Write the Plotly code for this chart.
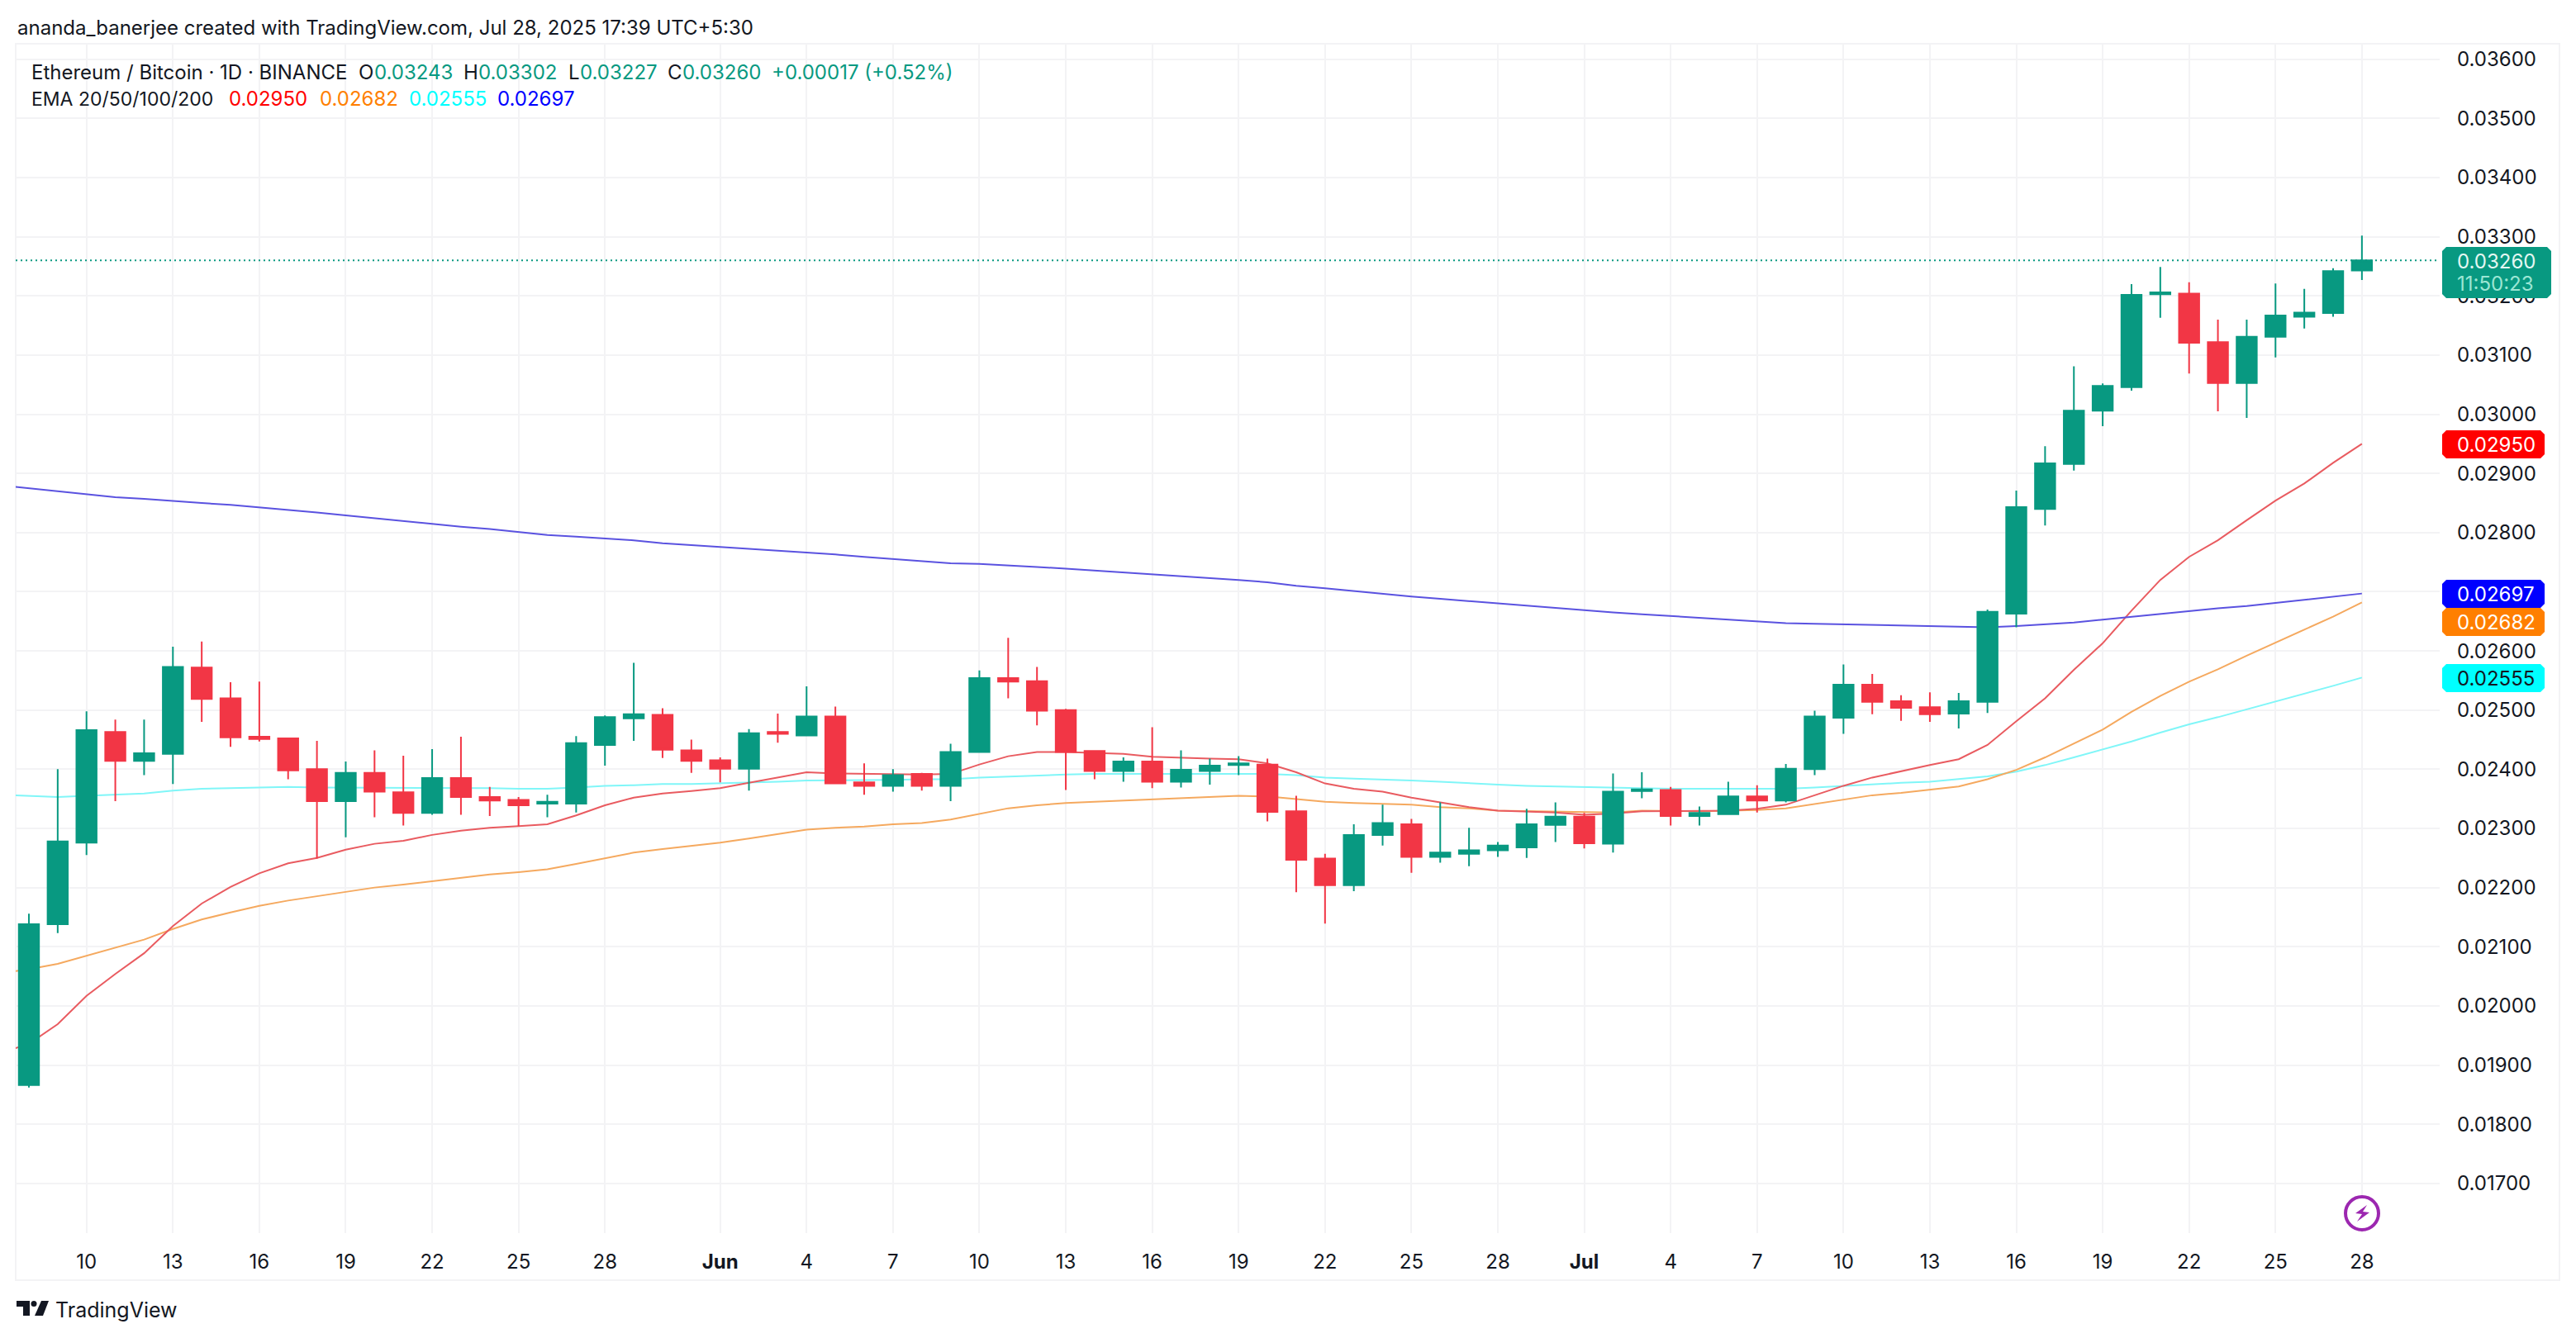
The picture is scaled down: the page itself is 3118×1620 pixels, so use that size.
import pandas as pd
import plotly.graph_objects as go

# daily candles, 8 May - 28 Jul 2025
opens = [.01866,.02138,.02276,.02463,.02414,.02426,.02572,.02520,.02455,.02452,
         .02400,.02346,.02394,.02361,.02326,.02385,.02353,.02348,.02342,.02342,
         .02441,.02486,.02492,.02432,.02415,.02401,.02463,.02457,.02489,.02378,
         .02372,.02392,.02372,.02429,.02554,.02549,.02500,.02431,.02397,.02413,
         .02379,.02397,.02407,.02408,.02329,.02249,.02204,.02289,.02307,.02252,
         .02257,.02263,.02268,.02306,.02320,.02274,.02363,.02365,.02321,.02324,
         .02354,.02347,.02400,.02487,.02543,.02515,.02505,.02494,.02514,.02663,
         .02840,.02916,.03006,.03046,.03203,.03204,.03122,.03053,.03131,.03165,
         .03171,.03243]
highs = [.02156,.02400,.02498,.02484,.02484,.02607,.02616,.02547,.02548,.02452,
         .02448,.02413,.02432,.02423,.02434,.02455,.02370,.02353,.02357,.02456,
         .02491,.02580,.02503,.02450,.02420,.02468,.02494,.02540,.02506,.02410,
         .02400,.02394,.02443,.02567,.02622,.02573,.02502,.02431,.02420,.02471,
         .02432,.02418,.02422,.02418,.02355,.02257,.02307,.02340,.02316,.02344,
         .02301,.02277,.02333,.02344,.02326,.02393,.02395,.02370,.02337,.02379,
         .02373,.02409,.02499,.02577,.02561,.02525,.02530,.02529,.02670,.02871,
         .02946,.03081,.03052,.03220,.03249,.03223,.03160,.03160,.03221,.03212,
         .03247,.03302]
lows = [.01862,.02123,.02255,.02346,.02390,.02375,.02480,.02438,.02447,.02383,
        .02249,.02285,.02319,.02305,.02323,.02323,.02321,.02304,.02319,.02327,
        .02406,.02448,.02419,.02394,.02378,.02364,.02445,.02456,.02375,.02357,
        .02362,.02364,.02346,.02429,.02520,.02474,.02365,.02383,.02379,.02368,
        .02369,.02374,.02390,.02312,.02192,.02139,.02194,.02271,.02225,.02242,
        .02236,.02252,.02250,.02277,.02266,.02259,.02351,.02305,.02305,.02323,
        .02327,.02344,.02390,.02460,.02493,.02482,.02480,.02469,.02495,.02640,
        .02812,.02905,.02980,.03040,.03163,.03069,.03005,.02994,.03096,.03145,
        .03165,.03227]
closes = [.02138,.02278,.02466,.02414,.02427,.02573,.02519,.02454,.02451,.02398,
          .02346,.02394,.02362,.02326,.02385,.02353,.02347,.02339,.02345,.02444,
          .02488,.02493,.02433,.02414,.02401,.02461,.02460,.02489,.02376,.02372,
          .02390,.02372,.02429,.02554,.02548,.02499,.02429,.02397,.02413,.02379,
          .02399,.02406,.02410,.02328,.02247,.02204,.02289,.02309,.02252,.02259,
          .02263,.02271,.02307,.02320,.02275,.02362,.02366,.02321,.02326,.02354,
          .02347,.02401,.02489,.02543,.02514,.02504,.02493,.02515,.02666,.02843,
          .02917,.03006,.03048,.03202,.03206,.03121,.03053,.03131,.03167,.03172,
          .03242,.03260]

# EMAs start one day earlier (7 May), the day is just off the left edge
ema20 = [.01920,.01936,.01969,.02017,.02054,.02089,.02135,.02173,.02201,.02224,.02241,
         .02250,.02264,.02274,.02279,.02289,.02296,.02301,.02304,.02307,.02322,
         .02339,.02352,.02359,.02363,.02368,.02377,.02386,.02395,.02393,.02392,
         .02391,.02391,.02392,.02408,.02422,.02429,.02429,.02427,.02426,.02421,
         .02419,.02418,.02417,.02410,.02395,.02376,.02367,.02362,.02352,.02344,
         .02336,.02330,.02328,.02327,.02323,.02325,.02329,.02329,.02329,.02330,
         .02333,.02340,.02356,.02372,.02386,.02397,.02407,.02417,.02441,.02481,
         .02520,.02568,.02613,.02668,.02720,.02759,.02787,.02821,.02854,.02883,
         .02918,.02950]
ema50 = [.02055,.02062,.02071,.02085,.02098,.02112,.02130,.02146,.02158,.02169,.02178,
         .02185,.02193,.02200,.02205,.02211,.02217,.02222,.02226,.02231,.02240,
         .02250,.02259,.02265,.02270,.02276,.02283,.02291,.02298,.02301,.02303,
         .02307,.02309,.02315,.02325,.02334,.02339,.02343,.02345,.02347,.02349,
         .02351,.02353,.02355,.02354,.02350,.02345,.02343,.02342,.02340,.02336,
         .02334,.02330,.02329,.02328,.02327,.02327,.02330,.02329,.02329,.02330,
         .02331,.02334,.02341,.02348,.02356,.02360,.02365,.02371,.02383,.02399,
         .02420,.02444,.02467,.02497,.02524,.02548,.02569,.02592,.02614,.02636,
         .02658,.02682]
ema100 = [.02357,.02355,.02353,.02355,.02357,.02359,.02364,.02367,.02368,.02369,.02370,
          .02369,.02369,.02369,.02369,.02369,.02369,.02368,.02367,.02367,.02369,
          .02372,.02373,.02375,.02375,.02376,.02377,.02379,.02381,.02381,.02382,
          .02382,.02383,.02383,.02386,.02388,.02390,.02391,.02392,.02392,.02392,
          .02392,.02392,.02392,.02392,.02390,.02386,.02384,.02383,.02381,.02379,
          .02376,.02374,.02372,.02371,.02369,.02369,.02368,.02367,.02367,.02367,
          .02367,.02367,.02369,.02372,.02375,.02377,.02379,.02383,.02388,.02396,
          .02407,.02420,.02433,.02447,.02462,.02476,.02488,.02501,.02515,.02528,
          .02541,.02555]
ema200 = [.02880,.02875,.02869,.02864,.02860,.02857,.02853,.02850,.02847,.02843,.02838,
          .02834,.02829,.02824,.02820,.02815,.02810,.02806,.02801,.02796,.02793,
          .02790,.02787,.02782,.02779,.02776,.02773,.02770,.02766,.02763,.02759,
          .02755,.02752,.02748,.02747,.02745,.02742,.02739,.02736,.02733,.02729,
          .02726,.02723,.02720,.02716,.02710,.02706,.02701,.02697,.02692,.02688,
          .02684,.02680,.02677,.02672,.02669,.02665,.02662,.02659,.02655,.02653,
          .02650,.02647,.02646,.02645,.02643,.02642,.02641,.02640,.02640,.02642,
          .02645,.02648,.02653,.02658,.02663,.02668,.02672,.02676,.02681,.02687,
          .02692,.02697]

tick_dates = ["2025-05-10","2025-05-13","2025-05-16","2025-05-19","2025-05-22","2025-05-25","2025-05-28",
              "2025-06-01","2025-06-04","2025-06-07","2025-06-10","2025-06-13","2025-06-16","2025-06-19",
              "2025-06-22","2025-06-25","2025-06-28","2025-07-01","2025-07-04","2025-07-07","2025-07-10",
              "2025-07-13","2025-07-16","2025-07-19","2025-07-22","2025-07-25","2025-07-28"]
tick_labels = ["10","13","16","19","22","25","28","<b>Jun</b>","4","7","10","13","16","19",
               "22","25","28","<b>Jul</b>","4","7","10","13","16","19","22","25","28"]

FONT = "Inter"
INK = "#131722"
UP = "#089981"
DOWN = "#F23645"
GRID = "#F3F3F5"

# plot area in page pixels
W, H = 3118, 1620
L, R, T, B = 19, 2953, 53, 1493


def fx(px):
    return (px - L) / (R - L)


def fy(py):
    return (B - py) / (B - T)


def rounded(x0, y0, x1, y1, r=5):
    p = [(x0 + r, y0), (x1 - r, y0), (x1, y0 + r), (x1, y1 - r), (x1 - r, y1), (x0 + r, y1), (x0, y1 - r), (x0, y0 + r)]
    return "M" + " L".join(f"{fx(a):.5f},{fy(b):.5f}" for a, b in p) + " Z"


def poly(points):
    return "M" + " L".join(f"{fx(a):.5f},{fy(b):.5f}" for a, b in points) + " Z"


dates = pd.date_range("2025-05-07", periods=83)

fig = go.Figure()
for values, color in [(ema100, "#80F6F8"), (ema50, "#F5A95F"), (ema20, "#E95B60"), (ema200, "#5A52E0")]:
    fig.add_trace(go.Scatter(x=dates, y=values, mode="lines", line=dict(color=color, width=2), showlegend=False))

fig.add_trace(go.Candlestick(
    x=dates[1:], open=opens, high=highs, low=lows, close=closes,
    increasing=dict(line=dict(color=UP, width=2), fillcolor=UP),
    decreasing=dict(line=dict(color=DOWN, width=2), fillcolor=DOWN),
    showlegend=False, zorder=1))

fig.update_layout(
    width=W, height=H, autosize=False,
    margin=dict(l=L, r=W - R, t=T, b=H - B, pad=0),
    paper_bgcolor="white", plot_bgcolor="white",
    font=dict(family=FONT, size=24, color=INK),
    boxgap=0.0, hovermode=False, dragmode=False)
fig.update_xaxes(
    range=["2025-05-07 13:00", "2025-07-30 16:48"], tickmode="array", tickvals=tick_dates, ticktext=tick_labels,
    tickangle=0, showgrid=True, gridcolor=GRID, gridwidth=2, zeroline=False, showline=False,
    ticks="", ticklabelstandoff=18, rangeslider_visible=False)
fig.update_yaxes(
    range=[0.016159, 0.036263], side="right", tick0=0.016, dtick=0.001, tickformat=".5f",
    showgrid=True, gridcolor=GRID, gridwidth=2, zeroline=False, showline=False,
    ticks="", ticklabelstandoff=20)

# frame round the whole chart
fig.add_shape(type="rect", xref="paper", yref="paper", x0=fx(19), x1=fx(3098), y0=fy(1550), y1=fy(53),
              line=dict(color=GRID, width=2), layer="below")
# last price line
fig.add_shape(type="line", xref="paper", yref="y", x0=0, x1=1, y0=closes[-1], y1=closes[-1],
              line=dict(color=UP, width=2, dash="2px,4px"), layer="above")


def note(text, x, y, color=INK, size=24, weight=None, anchor="left"):
    fig.add_annotation(text=text, xref="paper", yref="paper", x=fx(x), y=fy(y), showarrow=False,
                       xanchor=anchor, yanchor="middle", align=anchor, borderpad=0,
                       font=dict(family=FONT, size=size, color=color, weight=weight))


note("ananda_banerjee created with TradingView.com, Jul 28, 2025 17:39 UTC+5:30", 20, 33)
note("Ethereum / Bitcoin · 1D · BINANCE", 37, 87)
for text, x, color in [("O", 433, INK), ("0.03243", 452, UP), ("H", 560, INK), ("0.03302", 578, UP),
                       ("L", 687, INK), ("0.03227", 701, UP), ("C", 807, INK), ("0.03260", 825, UP),
                       ("+0.00017 (+0.52%)", 933, UP)]:
    note(text, x, 87, color)
note("EMA 20/50/100/200", 37, 120, size=23)
for text, x, color in [("0.02950", 276, "#FF0000"), ("0.02682", 386, "#FF7F00"),
                       ("0.02555", 494, "#00FFFF"), ("0.02697", 601, "#0000FF")]:
    note(text, x, 120, color)

# price badges, orange one is pushed down by the blue one
for text, yc, bg, fg in [("0.02950", 538, "#FF0000", "white"), ("0.02697", 719, "#0000FF", "white"),
                         ("0.02682", 753, "#FF7F00", "white"), ("0.02555", 821, "#00FFFF", INK)]:
    fig.add_shape(type="path", xref="paper", yref="paper", path=rounded(2956, yc - 17, 3080, yc + 17),
                  fillcolor=bg, line_width=0, layer="above")
    note(text, 2973, yc, fg)
fig.add_shape(type="path", xref="paper", yref="paper", path=rounded(2956, 299, 3088, 361),
              fillcolor=UP, line_width=0, layer="above")
note("0.03260", 2973, 316, "#E3F7F2")
note("11:50:23", 2973, 344, "#9BE6D4")

# purple lightning badge
fig.add_shape(type="circle", xref="paper", yref="paper", x0=fx(2839), x1=fx(2879), y0=fy(1489), y1=fy(1449),
              fillcolor="white", line=dict(color="#9C27B0", width=4), layer="above")
fig.add_shape(type="path", xref="paper", yref="paper", fillcolor="#9C27B0", line_width=0, layer="above",
              path=poly([(2865, 1459), (2851, 1469), (2859, 1470), (2853, 1479), (2868, 1468), (2860, 1467)]))

# TradingView logo
for points in [[(20, 1575), (36, 1575), (36, 1593), (28, 1593), (28, 1582), (20, 1582)],
               [(50, 1575), (59, 1575), (52, 1593), (42, 1593)]]:
    fig.add_shape(type="path", xref="paper", yref="paper", path=poly(points), fillcolor="#131722",
                  line_width=0, layer="above")
fig.add_shape(type="circle", xref="paper", yref="paper", x0=fx(37.5), x1=fx(44.5), y0=fy(1582), y1=fy(1575),
              fillcolor="#131722", line_width=0, layer="above")
note("TradingView", 66, 1586, size=25)

fig.write_html("out.html", post_script="document.body.style.margin='0';", config={"displayModeBar": False})
